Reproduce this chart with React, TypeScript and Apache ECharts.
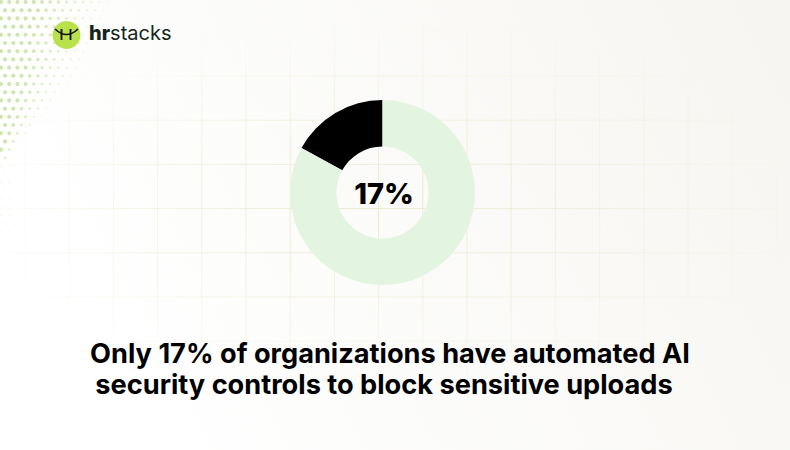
import React, { useEffect, useRef } from "react";
import * as echarts from "echarts";

const categories = ["Automated AI security controls", "No automated controls"];
const values = [17, 83];
const sliceColors = ["#000000", "#e3f5e1"];
const centerLabel = "17%";
const headlineLines = [
  "Only 17% of organizations have automated AI",
  "security controls to block sensitive uploads",
];
const brandBold = "hr";
const brandRegular = "stacks";

function buildGrid(): any[] {
  const els: any[] = [];
  const step = 44.2;
  const x0 = 25;
  const y0 = 31.8;
  const cx = 385;
  const cy = 205;
  const fade = (x: number, y: number) => {
    const nd = Math.sqrt(((x - cx) / 390) ** 2 + ((y - cy) / 175) ** 2);
    return Math.max(0, Math.min(1, 1.1 - nd));
  };
  const seg = 11;
  for (let i = 0; i < 18; i++) {
    const x = x0 + i * step;
    for (let y = 0; y < 450; y += seg) {
      const o = fade(x, y + seg / 2);
      if (o <= 0.02) continue;
      els.push({
        type: "line",
        silent: true,
        shape: { x1: x, y1: y, x2: x, y2: y + seg },
        style: { stroke: "#eaebd0", lineWidth: 1, opacity: o },
        z: 1,
      });
    }
  }
  for (let j = 0; j < 10; j++) {
    const y = y0 + j * step;
    for (let x = 0; x < 790; x += seg) {
      const o = fade(x + seg / 2, y);
      if (o <= 0.02) continue;
      els.push({
        type: "line",
        silent: true,
        shape: { x1: x, y1: y, x2: x + seg, y2: y },
        style: { stroke: "#eaebd0", lineWidth: 1, opacity: o },
        z: 1,
      });
    }
  }
  return els;
}

function buildDots(): any[] {
  const els: any[] = [];
  const sp = 8.2;
  const bound = (y: number) => (y < 80 ? 114 - 0.5 * y : 74 - (y - 80) * 0.85);
  for (let r = 0; r < 32; r++) {
    const y = 2 + r * sp;
    const off = r % 2 === 0 ? 0 : sp / 2;
    for (let c = 0; c < 16; c++) {
      const x = 1 + off + c * sp;
      const b = bound(y);
      let f = b > 2 ? 1 - x / b : 0;
      if (f <= 0 && x < 12 && y < 240) f = 0.12 * (1 - y / 240);
      if (f <= 0) continue;
      const rad = 0.6 + 1.5 * Math.min(1, f * 1.4);
      els.push({
        type: "circle",
        silent: true,
        shape: { cx: x, cy: y, r: rad },
        style: { fill: "#cde7ad", opacity: Math.min(1, 0.3 + f) },
        z: 2,
      });
    }
  }
  return els;
}

const headlineX = [390, 384];

export default function App() {
  const ref = useRef<HTMLDivElement>(null);
  useEffect(() => {
    if (!ref.current) return;
    const chart = echarts.init(ref.current, undefined, { renderer: "svg" });
    const option: any = {
      animation: false,
      backgroundColor: new echarts.graphic.LinearGradient(0, 0.3, 1, 0, [
        { offset: 0, color: "#ffffff" },
        { offset: 1, color: "#f6f5f1" },
      ]),
      series: [
        {
          type: "pie",
          center: [382.5, 192.5],
          radius: [46, 92.5],
          startAngle: 90,
          clockwise: false,
          silent: true,
          label: { show: false },
          labelLine: { show: false },
          emphasis: { disabled: true },
          itemStyle: { borderWidth: 0 },
          z: 5,
          data: categories.map((name, i) => ({
            name,
            value: values[i],
            itemStyle: { color: sliceColors[i] },
          })),
        },
      ],
      graphic: [
        ...buildGrid(),
        ...buildDots(),
        {
          type: "circle",
          z: 10,
          shape: { cx: 66.5, cy: 35, r: 14 },
          style: { fill: "#b9e14b" },
        },
        {
          type: "line",
          z: 11,
          shape: { x1: 61.5, y1: 29, x2: 61.5, y2: 40 },
          style: { stroke: "#111", lineWidth: 1.8 },
        },
        {
          type: "line",
          z: 11,
          shape: { x1: 70.5, y1: 29, x2: 70.5, y2: 40 },
          style: { stroke: "#111", lineWidth: 1.8 },
        },
        {
          type: "bezierCurve",
          z: 11,
          shape: { x1: 55, y1: 29, x2: 78, y2: 29, cpx1: 66.5, cpy1: 40 },
          style: { stroke: "#111", lineWidth: 1.6, fill: null },
        },
        {
          type: "text",
          z: 11,
          left: 89,
          top: 23,
          style: {
            text: `{b|${brandBold}}{r|${brandRegular}}`,
            rich: {
              b: { fontFamily: "Inter", fontWeight: 800, fontSize: 20, fill: "#14261a" },
              r: { fontFamily: "Inter", fontWeight: 400, fontSize: 20, fill: "#14261a" },
            },
          },
        },
        {
          type: "text",
          z: 12,
          x: 384,
          y: 193,
          style: {
            text: centerLabel,
            fontFamily: "Inter",
            fontWeight: 800,
            fontSize: 29,
            fill: "#000",
            align: "center",
            verticalAlign: "middle",
          },
        },
        ...headlineLines.map((t, i) => ({
          type: "text",
          z: 12,
          x: headlineX[i],
          y: 353 + i * 31,
          style: {
            text: t,
            fontFamily: "Inter",
            fontWeight: 700,
            fontSize: 27.2,
            fill: "#000",
            align: "center",
            verticalAlign: "middle",
          },
        })),
      ],
    };
    chart.setOption(option);
    return () => chart.dispose();
  }, []);
  return (
    <div
      ref={ref}
      style={{ position: "fixed", left: 0, top: 0, width: 790, height: 450 }}
    />
  );
}
